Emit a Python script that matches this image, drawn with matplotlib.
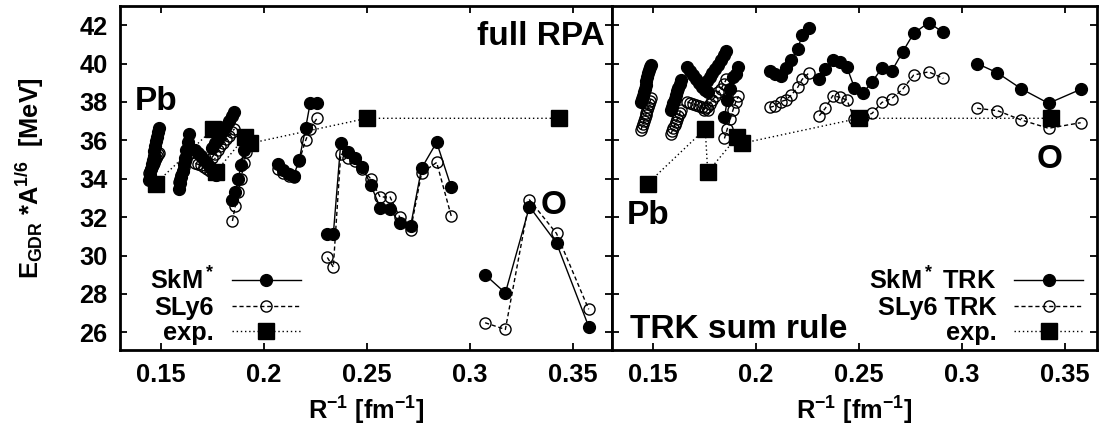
import numpy as np
import matplotlib
matplotlib.use("Agg")
import matplotlib.pyplot as plt
from matplotlib.lines import Line2D

plt.rcParams['font.family'] = ['Liberation Sans', 'DejaVu Sans']
plt.rcParams['font.weight'] = 'bold'
plt.rcParams['mathtext.fontset'] = 'custom'
plt.rcParams['mathtext.rm'] = 'Liberation Sans:bold'
plt.rcParams['mathtext.it'] = 'Liberation Sans:bold'
plt.rcParams['mathtext.bf'] = 'Liberation Sans:bold'
plt.rcParams['mathtext.default'] = 'bf'

# ---------------- data (x = R^-1 [fm^-1], y = E_GDR*A^(1/6) [MeV]) ----------------
# isotope chains; each chain: x, full-RPA SkM*, full-RPA SLy6, TRK SkM*, TRK SLy6
x_c1 = [0.1444, 0.1448, 0.1453, 0.1457, 0.1462, 0.1466, 0.1470, 0.1475, 0.1479, 0.1483, 0.1488, 0.1492]
rpa_skm_c1 = [33.95, 34.2, 34.5, 34.75, 35.0, 35.2, 35.45, 35.7, 35.95, 36.2, 36.45, 36.63]
rpa_sly_c1 = [34.3, 34.4, 34.5, 34.6, 34.7, 34.8, 34.9, 35.0, 35.1, 35.2, 35.3, 35.35]
trk_skm_c1 = [38.0, 38.15, 38.3, 38.5, 38.7, 38.9, 39.1, 39.3, 39.5, 39.65, 39.8, 39.92]
trk_sly_c1 = [36.55, 36.7, 36.85, 37.0, 37.15, 37.3, 37.45, 37.6, 37.75, 37.9, 38.05, 38.19]

x_c2 = [0.1589, 0.1595, 0.1601, 0.1607, 0.1613, 0.1619, 0.1625, 0.1631, 0.1637]
rpa_skm_c2 = [33.45, 33.8, 34.1, 34.4, 34.75, 35.1, 35.5, 35.9, 36.35]
rpa_sly_c2 = [33.85, 34.0, 34.2, 34.4, 34.6, 34.85, 35.05, 35.3, 35.5]
trk_skm_c2 = [37.6, 37.75, 37.95, 38.15, 38.35, 38.55, 38.75, 38.95, 39.15]
trk_sly_c2 = [36.35, 36.5, 36.65, 36.8, 36.95, 37.1, 37.25, 37.4, 37.6]

x_c3 = [0.1668, 0.1682, 0.1696, 0.1710, 0.1724, 0.1738, 0.1752, 0.1766]
rpa_skm_c3 = [35.5, 35.35, 35.2, 35.0, 34.8, 34.6, 34.4, 34.2]
rpa_sly_c3 = [34.8, 34.75, 34.7, 34.6, 34.5, 34.4, 34.3, 34.2]
trk_skm_c3 = [39.8, 39.6, 39.4, 39.2, 39.0, 38.8, 38.6, 38.5]
trk_sly_c3 = [38.0, 37.95, 37.9, 37.85, 37.8, 37.75, 37.7, 37.6]

x_c4 = [0.1748, 0.1762, 0.1776, 0.1790, 0.1804, 0.1818, 0.1832, 0.1846, 0.1858]
rpa_skm_c4 = [35.6, 35.85, 36.05, 36.3, 36.5, 36.75, 37.0, 37.25, 37.5]
rpa_sly_c4 = [35.1, 35.3, 35.5, 35.7, 35.85, 36.05, 36.25, 36.45, 36.6]
trk_skm_c4 = [38.9, 39.1, 39.3, 39.5, 39.7, 39.95, 40.2, 40.45, 40.65]
trk_sly_c4 = [37.6, 37.75, 37.9, 38.1, 38.3, 38.5, 38.7, 38.95, 39.2]

x_c5 = [0.1848, 0.1862, 0.1876, 0.1890, 0.1903, 0.1916]
rpa_skm_c5 = [32.9, 33.3, 34.0, 34.7, 35.5, 36.2]
rpa_sly_c5 = [31.8, 32.6, 33.3, 34.0, 34.8, 35.4]
trk_skm_c5 = [37.2, 38.1, 38.7, 39.3, 39.45, 39.8]
trk_sly_c5 = [36.1, 36.6, 37.1, 37.6, 38.0, 38.3]

x_c6 = [0.2068, 0.2092, 0.2120, 0.2145, 0.2172, 0.2203, 0.2225, 0.2258]
rpa_skm_c6 = [34.75, 34.45, 34.25, 34.15, 35.0, 36.65, 37.95, 37.95]
rpa_sly_c6 = [34.5, 34.3, 34.15, 34.1, 34.95, 36.0, 36.6, 37.15]
trk_skm_c6 = [39.6, 39.45, 39.35, 39.75, 40.2, 40.75, 41.5, 41.85]
trk_sly_c6 = [37.72, 37.79, 38.02, 38.10, 38.36, 38.76, 39.18, 39.52]

x_c7 = [0.2308, 0.2337, 0.2373, 0.2408, 0.2442, 0.2478, 0.2518, 0.2564, 0.2612, 0.2659, 0.2712, 0.2765, 0.2838, 0.2909]
rpa_skm_c7 = [31.1, 31.1, 35.85, 35.4, 35.1, 34.6, 33.7, 32.5, 32.4, 31.7, 31.55, 34.55, 35.9, 33.55]
rpa_sly_c7 = [29.9, 29.4, 35.3, 35.1, 34.9, 34.5, 34.0, 33.05, 33.05, 32.0, 31.35, 34.3, 34.85, 32.05]
trk_skm_c7 = [39.2, 39.7, 40.2, 40.1, 39.8, 38.75, 38.45, 39.05, 39.78, 39.61, 40.61, 41.57, 42.14, 41.62]
trk_sly_c7 = [37.29, 37.67, 38.33, 38.24, 38.10, 37.1, 37.2, 37.41, 37.98, 38.18, 38.66, 39.40, 39.57, 39.23]

x_c8 = [0.3073, 0.3171, 0.3288, 0.3419, 0.3575]
rpa_skm_c8 = [29.0, 28.05, 32.55, 30.65, 26.3]
rpa_sly_c8 = [26.5, 26.15, 32.9, 31.15, 27.2]
trk_skm_c8 = [40.0, 39.52, 38.68, 37.93, 38.66]
trk_sly_c8 = [37.67, 37.55, 37.06, 36.63, 36.92]

exp_x = [0.1476, 0.1755, 0.1767, 0.1910, 0.1935, 0.2500, 0.3430]
exp_y = [33.75, 36.6, 34.35, 36.2, 35.85, 37.15, 37.15]

xticks = [0.15, 0.2, 0.25, 0.3, 0.35]
xticklabels = ['0.15', '0.2', '0.25', '0.3', '0.35']
yticks = [26, 28, 30, 32, 34, 36, 38, 40, 42]

chains_x = [x_c1, x_c2, x_c3, x_c4, x_c5, x_c6, x_c7, x_c8]
rpa_skm = [rpa_skm_c1, rpa_skm_c2, rpa_skm_c3, rpa_skm_c4, rpa_skm_c5, rpa_skm_c6, rpa_skm_c7, rpa_skm_c8]
rpa_sly = [rpa_sly_c1, rpa_sly_c2, rpa_sly_c3, rpa_sly_c4, rpa_sly_c5, rpa_sly_c6, rpa_sly_c7, rpa_sly_c8]
trk_skm = [trk_skm_c1, trk_skm_c2, trk_skm_c3, trk_skm_c4, trk_skm_c5, trk_skm_c6, trk_skm_c7, trk_skm_c8]
trk_sly = [trk_sly_c1, trk_sly_c2, trk_sly_c3, trk_sly_c4, trk_sly_c5, trk_sly_c6, trk_sly_c7, trk_sly_c8]

# ---------------- figure ----------------
W, H = 1099, 436
fig = plt.figure(figsize=(W / 100, H / 100), dpi=100)
axL = fig.add_axes([120 / W, 1 - 350 / H, 492 / W, 344 / H])
axR = fig.add_axes([612 / W, 1 - 350 / H, 485 / W, 344 / H])

FS_TICK = 18.3
FS_ANN = 24

skm_style = dict(color='black', lw=1.0, ls='-', marker='o', ms=8.5,
                 mfc='black', mec='black', mew=1.0)
sly_style = dict(color='black', lw=1.0, ls=(0, (3, 2)), marker='o', ms=8.0,
                 mfc='none', mec='black', mew=1.0)
exp_style = dict(color='black', lw=1.0, ls=(0, (1, 2)), marker='s', ms=12,
                 mfc='black', mec='black')


def draw(ax, skm, sly):
    for xs, ys in zip(chains_x, sly):
        ax.plot(xs, ys, zorder=2, **sly_style)
    for xs, ys in zip(chains_x, skm):
        ax.plot(xs, ys, zorder=3, **skm_style)
    ax.plot(exp_x, exp_y, zorder=4, **exp_style)


draw(axL, rpa_skm, rpa_sly)
draw(axR, trk_skm, trk_sly)

axL.set_xlim(0.1303, 0.3688)
axR.set_xlim(0.1303, 0.3654)
for ax in (axL, axR):
    ax.set_ylim(25.08, 43.0)
    ax.set_xticks(xticks)
    ax.set_xticklabels(xticklabels)
    ax.set_yticks(yticks)
    ax.tick_params(direction='in', length=5, width=1.3, top=True, right=True,
                   labelsize=FS_TICK, pad=9)
    for s in ax.spines.values():
        s.set_linewidth(2.0)
    for lab in ax.get_xticklabels() + ax.get_yticklabels():
        lab.set_fontweight('bold')
    ax.set_xlabel('R$^{-1}$ [fm$^{-1}$]', fontsize=FS_TICK, fontweight='bold', labelpad=6)

axL.set_yticklabels([str(v) for v in yticks])
axR.set_yticklabels([])
axL.set_ylabel('E$_{GDR}$ *A$^{1/6}$  [MeV]', fontsize=FS_TICK, fontweight='bold', labelpad=24)

# annotations
axL.text(0.985, 0.955, 'full RPA', transform=axL.transAxes, ha='right', va='top',
         fontsize=FS_ANN, fontweight='bold')
axL.text(0.148, 38.0, 'Pb', ha='center', va='center', fontsize=FS_ANN, fontweight='bold')
axL.text(0.3405, 32.6, 'O', ha='center', va='center', fontsize=FS_ANN, fontweight='bold')
axR.text(0.148, 32.1, 'Pb', ha='center', va='center', fontsize=FS_ANN, fontweight='bold')
axR.text(0.3423, 35.0, 'O', ha='center', va='center', fontsize=FS_ANN, fontweight='bold')
axR.text(0.037, 0.015, 'TRK sum rule', transform=axR.transAxes, ha='left', va='bottom',
         fontsize=FS_ANN, fontweight='bold')


def legend(ax, labels, anchor):
    handles = [Line2D([], [], **skm_style), Line2D([], [], **sly_style),
               Line2D([], [], **exp_style)]
    leg = ax.legend(handles, labels, loc='lower left', bbox_to_anchor=anchor,
                    markerfirst=False, frameon=False, fontsize=FS_TICK,
                    handlelength=2.7, handletextpad=0.7, labelspacing=0.05,
                    borderpad=0.2, borderaxespad=0.0, numpoints=1)
    for t in leg.get_texts():
        t.set_fontweight('bold')
    return leg


legend(axL, ['SkM$^*$', 'SLy6', 'exp.'], (0.05, 0.0))
legend(axR, ['SkM$^*$ TRK', 'SLy6 TRK', 'exp.'], (0.52, 0.0))

fig.savefig('out.png', dpi=100)
